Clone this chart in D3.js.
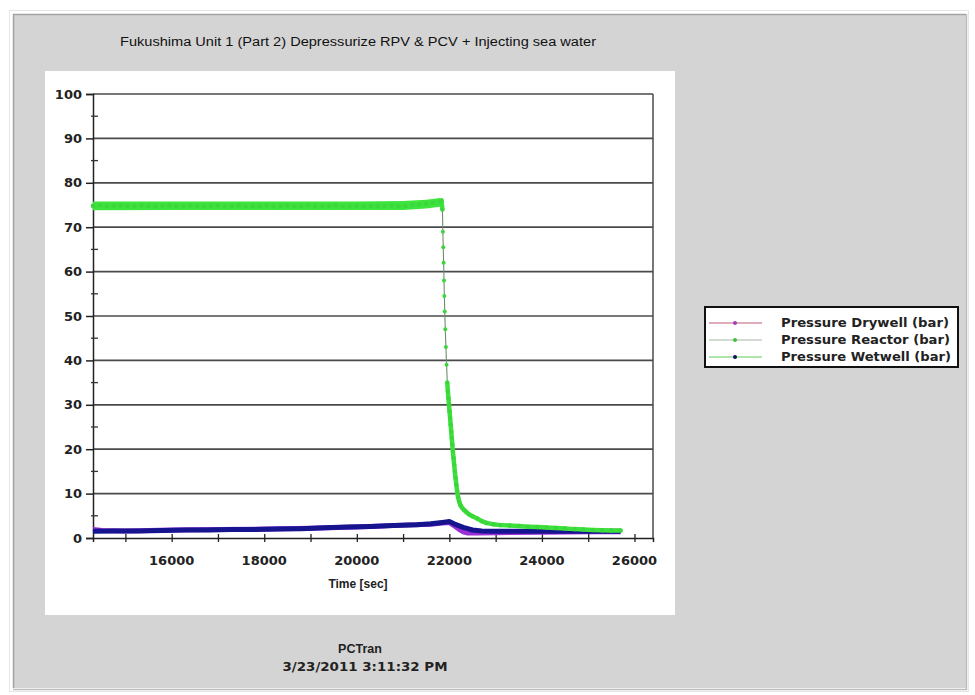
<!DOCTYPE html>
<html>
<head>
<meta charset="utf-8">
<script src="https://cdn.jsdelivr.net/npm/d3@7"></script>
<style>
  html, body { margin: 0; padding: 0; background: #ffffff; }
  svg { display: block; }
</style>
</head>
<body>
<script>
// ---- data ----
const titleText = "Fukushima Unit 1 (Part 2) Depressurize RPV & PCV + Injecting sea water";
const xTicksMajor = [16000, 18000, 20000, 22000, 24000, 26000];
const xTicksMinor = [15000, 16000, 17000, 18000, 19000, 20000, 21000, 22000, 23000, 24000, 25000, 26000];
const yTicksMajor = [0, 10, 20, 30, 40, 50, 60, 70, 80, 90, 100];
const yTicksMinor = [5, 15, 25, 35, 45, 55, 65, 75, 85, 95];
const seriesNames = ["Pressure Drywell (bar)", "Pressure Reactor (bar)", "Pressure Wetwell (bar)"];

// Reactor pressure (bar): steady period, then depressurization
const reactorTime = [
  14300, 14450, 14600, 14750, 14900, 15050, 15200, 15350, 15500, 15650,
  15800, 15950, 16100, 16250, 16400, 16550, 16700, 16850, 17000, 17150,
  17300, 17450, 17600, 17750, 17900, 18050, 18200, 18350, 18500, 18650,
  18800, 18950, 19100, 19250, 19400, 19550, 19700, 19850, 20000, 20150,
  20300, 20450, 20600, 20750, 20900, 21050, 21200, 21350, 21500, 21650,
  21800, 21830, 21850, 21860, 21868, 21876, 21884, 21892, 21900, 21912,
  21925, 21940, 21955, 21968, 21980, 21992, 22004, 22016, 22028, 22040,
  22052, 22064, 22076, 22090, 22104, 22118, 22134, 22150, 22168, 22188,
  22212, 22240, 22275, 22320, 22370, 22430, 22500, 22600, 22700, 22800,
  22950, 23100, 23300, 23500, 23700, 23900, 24100, 24300, 24500, 24700,
  24900, 25100, 25300, 25500, 25700
];
const reactorValue = [
  74.8, 74.9, 74.7, 74.8, 74.9, 74.7, 74.8, 74.9, 74.8, 74.7,
  74.8, 74.9, 74.7, 74.8, 74.9, 74.8, 74.7, 74.8, 74.9, 74.7,
  74.8, 74.9, 74.7, 74.8, 74.8, 74.9, 74.7, 74.8, 74.9, 74.7,
  74.8, 74.9, 74.7, 74.8, 74.8, 74.9, 74.7, 74.7, 74.8, 74.7,
  74.8, 74.7, 74.8, 74.9, 74.7, 74.8, 75.0, 75.1, 75.3, 75.5,
  75.7, 76.0, 74.0, 69.0, 65.5, 62.0, 58.0, 54.5, 51.0, 47.0,
  43.0, 39.0, 35.0, 33.0, 31.5, 30.0, 28.5, 27.0, 25.5, 24.0,
  22.5, 21.0, 19.5, 18.0, 16.5, 15.0, 13.5, 12.0, 10.5, 9.2,
  8.2, 7.4, 6.8, 6.3, 5.8, 5.3, 4.9, 4.4, 3.8, 3.4,
  3.1, 2.9, 2.8, 2.7, 2.55, 2.45, 2.35, 2.25, 2.15, 2.0,
  1.9, 1.8, 1.75, 1.7, 1.7
];
// spread of the reactor trace during the steady period (bar)
const reactorSpreadTime = [14300, 16000, 18000, 20000, 21000, 21500, 21800];
const reactorSpreadLow  = [73.8, 73.9, 73.9, 73.9, 73.9, 74.2, 74.6];
const reactorSpreadHigh = [75.8, 75.8, 75.8, 75.8, 75.9, 76.2, 76.6];

// Wetwell pressure (bar)
const wetwellTime = [
  14300, 14800, 15300, 15800, 16300, 16800, 17300, 17800, 18300, 18800,
  19300, 19800, 20300, 20800, 21300, 21600, 21850, 22000, 22100, 22200,
  22300, 22400, 22500, 22700, 23000, 23500, 24000, 24500, 25000, 25500, 25700
];
const wetwellValue = [
  1.5, 1.6, 1.6, 1.7, 1.8, 1.8, 1.9, 1.9, 2.0, 2.1,
  2.3, 2.5, 2.6, 2.8, 3.0, 3.2, 3.5, 3.7, 3.2, 2.8,
  2.4, 2.1, 1.8, 1.6, 1.5, 1.5, 1.5, 1.5, 1.5, 1.5, 1.5
];

// Drywell pressure (bar)
const drywellTime = [
  14300, 14500, 15000, 15500, 16000, 17000, 18000, 19000, 20000, 21000,
  21600, 21850, 22000, 22100, 22200, 22300, 22400, 22600, 23000, 24000,
  25000, 25700
];
const drywellValue = [
  1.9, 1.7, 1.6, 1.7, 1.8, 1.9, 2.0, 2.2, 2.5, 2.9,
  3.1, 3.4, 3.5, 2.8, 2.0, 1.4, 1.1, 1.1, 1.2, 1.3,
  1.4, 1.4
];

const W = 975, H = 695;
const svg = d3.select("body").append("svg").attr("width", W).attr("height", H);

// window frame
svg.append("rect").attr("x", 0).attr("y", 0).attr("width", W).attr("height", H).attr("fill", "#ffffff");
svg.append("rect").attr("x", 9.5).attr("y", 10.5).attr("width", 959).attr("height", 681)
  .attr("fill", "none").attr("stroke", "#e6e6e6").attr("stroke-width", 1);
svg.append("rect").attr("x", 13).attr("y", 14).attr("width", 953).attr("height", 674)
  .attr("fill", "#d4d4d4");
svg.append("path").attr("d", "M13.5,688 V14.5 H966").attr("fill", "none")
  .attr("stroke", "#a4a4a4").attr("stroke-width", 1.5);
svg.append("path").attr("d", "M13,689.5 H966.5 V14").attr("fill", "none")
  .attr("stroke", "#bdbdbd").attr("stroke-width", 1.5);

// title
svg.append("text").attr("x", 120).attr("y", 46)
  .attr("font-family", "'Liberation Sans', Arial, sans-serif").attr("font-size", 12.5)
  .attr("textLength", 476).attr("lengthAdjust", "spacingAndGlyphs")
  .attr("fill", "#111").text(titleText);

// white chart panel
svg.append("rect").attr("x", 45).attr("y", 71).attr("width", 630).attr("height", 544).attr("fill", "#ffffff");

// scales
const x = d3.scaleLinear().domain([14300, 26400]).range([93, 653]);
const y = d3.scaleLinear().domain([0, 100]).range([538, 94]);

const boldFont = "'DejaVu Sans', 'Liberation Sans', Arial, sans-serif";
const sansBold = "'Liberation Sans', Arial, sans-serif";

// horizontal grid lines
svg.append("g").selectAll("line").data(yTicksMajor.filter(d => d > 0)).join("line")
  .attr("x1", x.range()[0]).attr("x2", x.range()[1])
  .attr("y1", d => y(d)).attr("y2", d => y(d))
  .attr("stroke", "#4a4a4a").attr("stroke-width", 1.7);

// right border of the plot area
svg.append("line").attr("x1", x.range()[1]).attr("x2", x.range()[1])
  .attr("y1", y(100)).attr("y2", y(0)).attr("stroke", "#4a4a4a").attr("stroke-width", 1.5);

// y axis
const yAxis = svg.append("g").attr("transform", `translate(${x.range()[0]},0)`)
  .call(d3.axisLeft(y).tickValues(yTicksMajor).tickSize(7).tickPadding(4).tickFormat(d3.format("d")));
yAxis.select(".domain").attr("stroke", "#222").attr("stroke-width", 1.5);
yAxis.selectAll(".tick line").attr("stroke", "#222").attr("stroke-width", 1.5);
yAxis.selectAll(".tick text").attr("font-family", boldFont).attr("font-weight", "bold")
  .attr("font-size", 13).attr("fill", "#222");
svg.append("g").selectAll("line").data(yTicksMinor).join("line")
  .attr("x1", x.range()[0] - 2).attr("x2", x.range()[0] + 5)
  .attr("y1", d => y(d)).attr("y2", d => y(d))
  .attr("stroke", "#333").attr("stroke-width", 1.3);

// x axis
const xAxis = svg.append("g").attr("transform", `translate(0,${y(0)})`)
  .call(d3.axisBottom(x).tickValues(xTicksMinor).tickSize(4).tickFormat(""));
xAxis.select(".domain").attr("stroke", "#222").attr("stroke-width", 1.5);
xAxis.selectAll(".tick line").attr("y1", -4).attr("stroke", "#222").attr("stroke-width", 1.3);
svg.append("g").selectAll("text").data(xTicksMajor).join("text")
  .attr("x", d => x(d)).attr("y", 565).attr("text-anchor", "middle")
  .attr("font-family", boldFont).attr("font-weight", "bold").attr("font-size", 13)
  .attr("fill", "#222").text(d => d);
svg.append("text").attr("x", 358).attr("y", 588).attr("text-anchor", "middle")
  .attr("font-family", sansBold).attr("font-weight", "bold").attr("font-size", 12)
  .attr("fill", "#222").text("Time [sec]");

// series
const plot = svg.append("g");
const line = d3.line().x(d => x(d[0])).y(d => y(d[1]));
const drywell = d3.zip(drywellTime, drywellValue);
const wetwell = d3.zip(wetwellTime, wetwellValue);
const reactor = d3.zip(reactorTime, reactorValue);
const spread = d3.zip(reactorSpreadTime, reactorSpreadLow, reactorSpreadHigh);

plot.append("path").datum(drywell).attr("d", line).attr("fill", "none")
  .attr("stroke", "#9a2fd6").attr("stroke-width", 5).attr("stroke-linejoin", "round");
plot.append("path").datum(wetwell).attr("d", line).attr("fill", "none")
  .attr("stroke", "#16148e").attr("stroke-width", 5).attr("stroke-linejoin", "round");

// scatter band of the reactor trace while steady
plot.append("path").datum(spread)
  .attr("d", d3.area().x(d => x(d[0])).y0(d => y(d[1])).y1(d => y(d[2])))
  .attr("fill", "#3ee43e");

// reactor trace: densely sampled stretches read as a thick trace,
// sparse steps (the fast drop) as a thin connector between markers
const segs = d3.pairs(reactor).map(([a, b]) => {
  const len = Math.hypot(x(b[0]) - x(a[0]), y(b[1]) - y(a[1]));
  return { a, b, sparse: len > 11 };
});
plot.append("g").selectAll("line").data(segs).join("line")
  .attr("x1", d => x(d.a[0])).attr("y1", d => y(d.a[1]))
  .attr("x2", d => x(d.b[0])).attr("y2", d => y(d.b[1]))
  .attr("stroke", d => d.sparse ? "#6e8e6e" : "#3de03d")
  .attr("stroke-width", d => d.sparse ? 1.1 : 4.5)
  .attr("stroke-linecap", "round");
plot.append("g").selectAll("circle").data(reactor).join("circle")
  .attr("cx", d => x(d[0])).attr("cy", d => y(d[1])).attr("r", 2)
  .attr("fill", "#3ad63a");

// legend
const lg = svg.append("g");
lg.append("rect").attr("x", 705).attr("y", 307).attr("width", 253).attr("height", 60)
  .attr("fill", "#ffffff").attr("stroke", "#111").attr("stroke-width", 2);
const legendLine = ["#c05a78", "#a8b8a8", "#5ccc5c"];
const legendMark = ["#a040b0", "#40c040", "#101060"];
const rows = lg.selectAll("g.row").data(seriesNames).join("g").attr("class", "row")
  .attr("transform", (d, i) => `translate(0,${323 + i * 17})`);
rows.append("line").attr("x1", 709).attr("x2", 762).attr("y1", 0).attr("y2", 0)
  .attr("stroke", (d, i) => legendLine[i]).attr("stroke-width", 1.2);
rows.append("circle").attr("cx", 735).attr("cy", 0).attr("r", 2)
  .attr("fill", (d, i) => legendMark[i]);
rows.append("text").attr("x", 781).attr("y", 4)
  .attr("font-family", boldFont).attr("font-weight", "bold").attr("font-size", 11.5)
  .attr("textLength", (d, i) => [168, 169, 170][i]).attr("lengthAdjust", "spacingAndGlyphs")
  .attr("fill", "#222").text(d => d);

// footer
svg.append("text").attr("x", 360).attr("y", 653).attr("text-anchor", "middle")
  .attr("font-family", sansBold).attr("font-weight", "bold").attr("font-size", 12.5)
  .attr("fill", "#222").text("PCTran");
svg.append("text").attr("x", 365).attr("y", 671).attr("text-anchor", "middle")
  .attr("font-family", boldFont).attr("font-weight", "bold").attr("font-size", 12)
  .attr("textLength", 165).attr("lengthAdjust", "spacingAndGlyphs")
  .attr("fill", "#222").text("3/23/2011 3:11:32 PM");
</script>
</body>
</html>
